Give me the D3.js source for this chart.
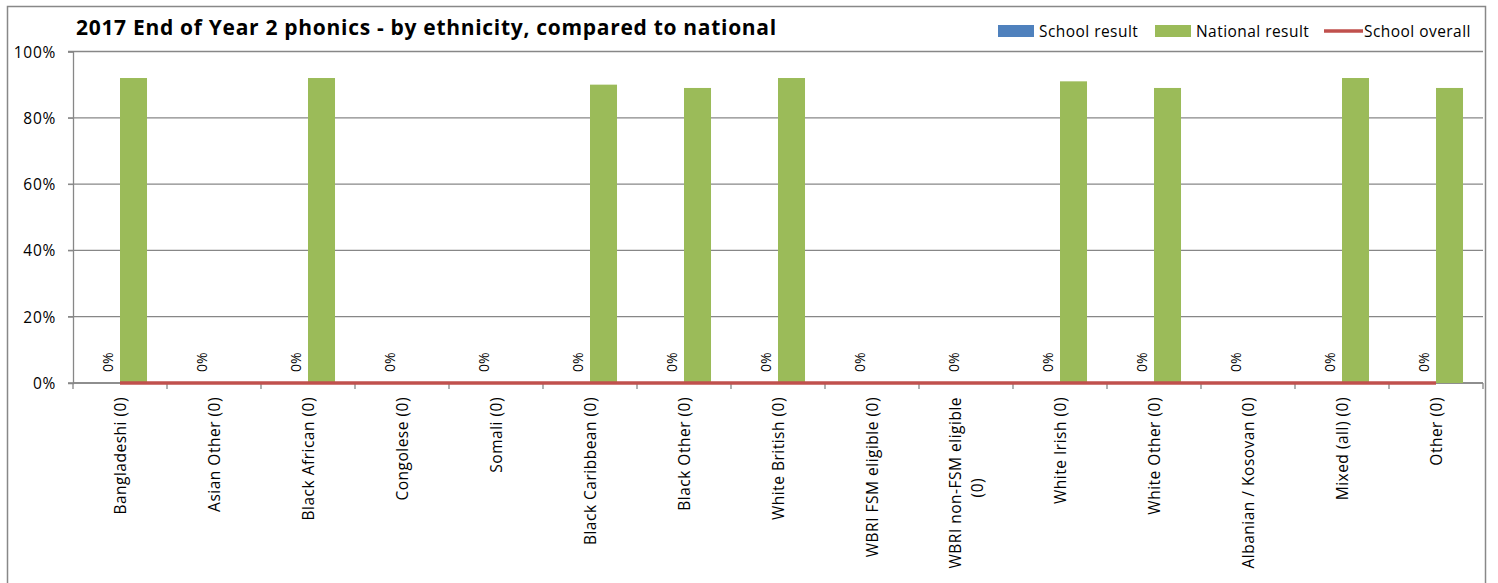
<!DOCTYPE html>
<html>
<head>
<meta charset="utf-8">
<script src="https://cdn.jsdelivr.net/npm/d3@7"></script>
<style>
  body { margin: 0; background: #fff; }
  svg text { font-family: "Open Sans", Lato, sans-serif; fill: #000; }
</style>
</head>
<body>
<svg id="chart" width="1498" height="583"></svg>
<script>
// chart data
const categories = [
  ['Bangladeshi (0)'], ['Asian Other (0)'], ['Black African (0)'], ['Congolese (0)'],
  ['Somali (0)'], ['Black Caribbean (0)'], ['Black Other (0)'], ['White British (0)'],
  ['WBRI FSM eligible (0)'], ['WBRI non-FSM eligible', '(0)'], ['White Irish (0)'],
  ['White Other (0)'], ['Albanian / Kosovan (0)'], ['Mixed (all) (0)'], ['Other (0)']
];
const schoolResult = [0, 0, 0, 0, 0, 0, 0, 0, 0, 0, 0, 0, 0, 0, 0];
const nationalResult = [92, null, 92, null, null, 90, 89, 92, null, null, 91, 89, null, 92, 89];
const schoolOverall = [0, 0, 0, 0, 0, 0, 0, 0, 0, 0, 0, 0, 0, 0, 0];
const yTicks = [0, 20, 40, 60, 80, 100];

const svg = d3.select('#chart');
const plotLeft = 73, plotRight = 1483, plotTop = 51.5, plotBottom = 383;
const keys = d3.range(categories.length);

const x = d3.scaleBand().domain(keys).range([plotLeft, plotRight]).paddingInner(0).paddingOuter(0);
const inner = d3.scaleBand().domain(['s', 'n']).range([0, x.bandwidth()]).paddingInner(0).paddingOuter(0.74);
const y = d3.scaleLinear().domain([0, 100]).range([plotBottom, plotTop]);

// outer frame
svg.append('rect').attr('x', 7.5).attr('y', 6.5).attr('width', 1478).attr('height', 600)
  .attr('fill', 'none').attr('stroke', '#888').attr('stroke-width', 1.5);

// gridlines
svg.append('g').selectAll('line').data(yTicks).enter().append('line')
  .attr('x1', plotLeft - 5).attr('x2', plotRight)
  .attr('y1', d => y(d)).attr('y2', d => y(d))
  .attr('stroke', '#878787').attr('stroke-width', 1.3);

// y axis
const yAxis = svg.append('g').attr('transform', `translate(${plotLeft},0)`)
  .call(d3.axisLeft(y).tickValues(yTicks).tickFormat(d => d + '%').tickSize(5).tickPadding(5));
yAxis.select('.domain').attr('stroke', '#878787').attr('stroke-width', 1.3);
yAxis.selectAll('.tick line').attr('stroke', '#878787');
yAxis.selectAll('text').style('font-family', '"Open Sans", sans-serif').style('font-size', '15.5px')
  .style('letter-spacing', '0.7px').attr('fill', '#000').attr('x', -17).attr('dy', '0.36em');

// x axis
const xAxis = svg.append('g').attr('transform', `translate(0,${plotBottom})`);
xAxis.append('line').attr('x1', plotLeft).attr('x2', plotRight).attr('stroke', '#878787').attr('stroke-width', 1.3);
xAxis.selectAll('line.tk').data(d3.range(categories.length + 1)).enter().append('line')
  .attr('class', 'tk')
  .attr('x1', i => plotLeft + i * x.step()).attr('x2', i => plotLeft + i * x.step())
  .attr('y1', 0).attr('y2', 6).attr('stroke', '#878787').attr('stroke-width', 1.3);

// bars
const groups = svg.append('g').selectAll('g').data(keys).enter().append('g')
  .attr('transform', i => `translate(${x(i)},0)`);
groups.filter(i => nationalResult[i] != null).append('rect')
  .attr('x', inner('n')).attr('width', inner.bandwidth())
  .attr('y', i => y(nationalResult[i])).attr('height', i => plotBottom - y(nationalResult[i]))
  .attr('fill', '#9bbb59');
groups.append('rect')
  .attr('x', inner('s')).attr('width', inner.bandwidth())
  .attr('y', i => y(schoolResult[i])).attr('height', i => plotBottom - y(schoolResult[i]))
  .attr('fill', '#4f81bd');

// data labels for school result
groups.append('text')
  .attr('transform', i => `translate(${inner('s') + inner.bandwidth() / 2 + 6.5},${y(schoolResult[i]) - 11}) rotate(-90)`)
  .attr('text-anchor', 'start')
  .style('font-size', '14px')
  .text(i => schoolResult[i] + '%');

// school overall line
svg.append('path')
  .datum(keys)
  .attr('d', d3.line().x(i => x(i) + x.bandwidth() / 2).y(i => y(schoolOverall[i])))
  .attr('fill', 'none').attr('stroke', '#c0504d').attr('stroke-width', 3.5);

// category labels
const labels = svg.append('g').selectAll('text').data(keys).enter().append('text')
  .attr('transform', i => `translate(${x(i) + x.bandwidth() / 2},${plotBottom + 14}) rotate(-90)`)
  .attr('text-anchor', 'end')
  .style('font-size', '15.5px')
  .style('letter-spacing', '0.5px');
labels.each(function (i) {
  const lines = categories[i];
  const t = d3.select(this);
  lines.forEach((ln, k) => {
    t.append('tspan')
      .attr('x', 0)
      .attr('y', (k - (lines.length - 1) / 2) * 22 + 5.5)
      .attr('text-anchor', lines.length > 1 ? 'middle' : 'end')
      .text(ln);
  });
});
// centre the two-line label like Excel does
labels.filter(i => categories[i].length > 1).selectAll('tspan')
  .attr('x', function () { return -this.parentNode.getBBox().width / 2; });

// title
svg.append('text').attr('x', 76).attr('y', 35)
  .style('font-size', '21px').style('font-weight', 'bold').style('letter-spacing', '0.7px')
  .text('2017 End of Year 2 phonics - by ethnicity, compared to national');

// legend
const legend = svg.append('g').attr('transform', 'translate(0,31)');
const legendItems = [
  { label: 'School result', color: '#4f81bd', type: 'rect', x: 998, tx: 1039 },
  { label: 'National result', color: '#9bbb59', type: 'rect', x: 1155, tx: 1196 },
  { label: 'School overall', color: '#c0504d', type: 'line', x: 1324, tx: 1364 }
];
legendItems.forEach(d => {
  if (d.type === 'rect') {
    legend.append('rect').attr('x', d.x).attr('y', -6).attr('width', 36).attr('height', 12).attr('fill', d.color);
  } else {
    legend.append('line').attr('x1', d.x).attr('x2', d.x + 39).attr('y1', 0).attr('y2', 0)
      .attr('stroke', d.color).attr('stroke-width', 3.5);
  }
  legend.append('text').attr('x', d.tx).attr('y', 5.5).style('font-size', '15.5px')
    .style('letter-spacing', '0.45px').text(d.label);
});
</script>
</body>
</html>
